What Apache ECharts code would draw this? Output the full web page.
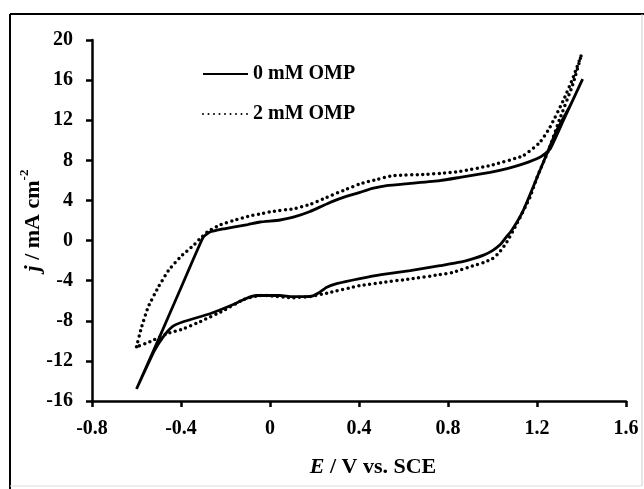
<!DOCTYPE html>
<html>
<head>
<meta charset="utf-8">
<script src="https://cdn.jsdelivr.net/npm/echarts@6/dist/echarts.min.js"></script>
<style>
  html, body { margin: 0; padding: 0; background: #fff; }
  #chart { width: 644px; height: 489px; }
</style>
</head>
<body>
<div id="chart"></div>
<script>
// Series names
const seriesNames = ['0 mM OMP', '2 mM OMP'];

// 0 mM OMP cyclic voltammogram (E in V vs. SCE, j in mA cm^-2), closed loop
const solidE = [-0.6, -0.5, -0.4, -0.3, -0.27, -0.2, -0.165, -0.1, -0.045, 0.045, 0.105, 0.18, 0.255, 0.33, 0.404, 0.46, 0.524, 0.63, 0.764, 0.854, 0.989, 1.07, 1.138, 1.213, 1.258, 1.318, 1.405,
  1.35, 1.288, 1.213, 1.138, 1.086, 1.06, 1.035, 1.0, 0.96, 0.914, 0.854, 0.764, 0.63, 0.5, 0.404, 0.3, 0.255, 0.22, 0.18, 0.1, 0.045, -0.06, -0.11, -0.165, -0.27, -0.39, -0.44, -0.48, -0.52, -0.6];
const solidJ = [-14.8, -9.8, -4.7, 0.35, 0.85, 1.2, 1.35, 1.6, 1.85, 2.05, 2.33, 2.9, 3.65, 4.3, 4.8, 5.2, 5.48, 5.7, 5.98, 6.3, 6.8, 7.2, 7.64, 8.3, 9.1, 11.96, 16.1,
  13.5, 10.97, 6.98, 2.99, 1.0, 0.3, -0.4, -1.0, -1.45, -1.8, -2.16, -2.5, -3.0, -3.4, -3.8, -4.3, -4.65, -5.2, -5.58, -5.6, -5.48, -5.48, -5.8, -6.38, -7.3, -8.1, -8.6, -9.6, -11.0, -14.8];

// 2 mM OMP cyclic voltammogram, closed loop
const dottedE = [-0.6, -0.577, -0.547, -0.502, -0.457, -0.404, -0.345, -0.315, -0.28, -0.22, -0.165, -0.1, -0.045, 0.015, 0.105, 0.18, 0.255, 0.33, 0.404, 0.48, 0.554, 0.7, 0.764, 0.854, 0.989, 1.138, 1.213, 1.258, 1.318, 1.363, 1.4,
  1.36, 1.3, 1.25, 1.2, 1.168, 1.109, 1.064, 1.03, 1.0, 0.96, 0.914, 0.824, 0.764, 0.63, 0.5, 0.404, 0.255, 0.18, 0.1, 0.0, -0.045, -0.12, -0.21, -0.315, -0.39, -0.464, -0.54, -0.6];
const dottedJ = [-10.6, -8.6, -6.6, -4.65, -3.0, -1.66, -0.5, 0.17, 0.9, 1.6, 2.0, 2.4, 2.66, 2.92, 3.16, 3.6, 4.3, 5.0, 5.65, 6.1, 6.48, 6.6, 6.7, 6.9, 7.48, 8.47, 9.8, 11.3, 13.96, 16.3, 18.55,
  15.5, 12.0, 8.9, 6.3, 4.3, 1.66, -0.17, -1.2, -1.8, -2.2, -2.5, -3.16, -3.4, -3.82, -4.2, -4.49, -5.25, -5.58, -5.7, -5.5, -5.48, -5.9, -7.0, -8.1, -8.8, -9.3, -10.1, -10.6];

// Axis ticks
const xTicks = [-0.8, -0.4, 0, 0.4, 0.8, 1.2, 1.6];
const yTicks = [-16, -12, -8, -4, 0, 4, 8, 12, 16, 20];

const pairs = (xs, ys) => xs.map((x, i) => [x, ys[i]]);
const FONT = "'Liberation Serif', 'Times New Roman', serif";

const chart = echarts.init(document.getElementById('chart'), null, { renderer: 'canvas' });
chart.setOption({
  animation: false,
  backgroundColor: '#ffffff',
  grid: { left: 92, right: 18, top: 40, bottom: 88, containLabel: false },
  legend: {
    orient: 'vertical',
    left: 202,
    top: 64,
    padding: 0,
    itemWidth: 45,
    itemHeight: 14,
    itemGap: 20,
    itemStyle: { opacity: 0 },
    data: seriesNames,
    textStyle: { fontFamily: FONT, fontWeight: 'bold', fontSize: 20, color: '#000', lineHeight: 20 }
  },
  xAxis: {
    type: 'value',
    min: xTicks[0],
    max: xTicks[xTicks.length - 1],
    interval: 0.4,
    splitLine: { show: false },
    axisLine: { onZero: false, lineStyle: { color: '#000', width: 2.5 } },
    axisTick: { show: true, inside: false, length: 6, lineStyle: { color: '#000', width: 2.5 } },
    axisLabel: { margin: 18, fontFamily: FONT, fontWeight: 'bold', fontSize: 20, color: '#000' },
    name: '{i|E}{n| / V vs. SCE}',
    nameLocation: 'middle',
    nameGap: 55,
    nameTextStyle: {
      padding: [0, 0, 0, 28],
      rich: {
        i: { fontFamily: FONT, fontStyle: 'italic', fontWeight: 'bold', fontSize: 22, color: '#000' },
        n: { fontFamily: FONT, fontWeight: 'bold', fontSize: 22, color: '#000' }
      }
    }
  },
  yAxis: {
    type: 'value',
    min: yTicks[0],
    max: yTicks[yTicks.length - 1],
    interval: 4,
    splitLine: { show: false },
    axisLine: { onZero: false, lineStyle: { color: '#000', width: 2.5 } },
    axisTick: { show: true, inside: false, length: 6, lineStyle: { color: '#000', width: 2.5 } },
    axisLabel: { margin: 19, fontFamily: FONT, fontWeight: 'bold', fontSize: 20, color: '#000' },
    name: '{i|j}{n| / mA cm}{s|-2}',
    nameLocation: 'middle',
    nameGap: 48,
    nameMoveOverlap: false,
    nameRotate: 90,
    nameTextStyle: {
      rich: {
        i: { fontFamily: FONT, fontStyle: 'italic', fontWeight: 'bold', fontSize: 22, color: '#000', lineHeight: 26, verticalAlign: 'bottom' },
        n: { fontFamily: FONT, fontWeight: 'bold', fontSize: 22, color: '#000', lineHeight: 26, verticalAlign: 'bottom' },
        s: { fontFamily: FONT, fontWeight: 'bold', fontSize: 13, color: '#000', lineHeight: 26, verticalAlign: 'top' }
      }
    }
  },
  series: [
    {
      name: seriesNames[0],
      type: 'line',
      data: pairs(solidE, solidJ),
      showSymbol: false,
      symbol: 'none',
      smooth: 0.15,
      lineStyle: { color: '#000', width: 2.8, type: 'solid' },
      itemStyle: { color: '#000' }
    },
    {
      name: seriesNames[1],
      type: 'line',
      data: pairs(dottedE, dottedJ),
      showSymbol: false,
      symbol: 'none',
      smooth: 0.15,
      lineStyle: { color: '#000', width: 3.5, type: [0, 5.5], cap: 'round' },
      itemStyle: { color: '#000' }
    }
  ],
  graphic: [
    { type: 'line', shape: { x1: 10, y1: 14, x2: 644, y2: 14 }, style: { stroke: '#000', lineWidth: 2 } },
    { type: 'line', shape: { x1: 10, y1: 14, x2: 10, y2: 489 }, style: { stroke: '#000', lineWidth: 2 } },
    { type: 'line', shape: { x1: 642, y1: 14, x2: 642, y2: 486 }, style: { stroke: '#ccc', lineWidth: 1 } },
    { type: 'line', shape: { x1: 10, y1: 486, x2: 642, y2: 486 }, style: { stroke: '#ddd', lineWidth: 1 } }
  ]
});
</script>
</body>
</html>
